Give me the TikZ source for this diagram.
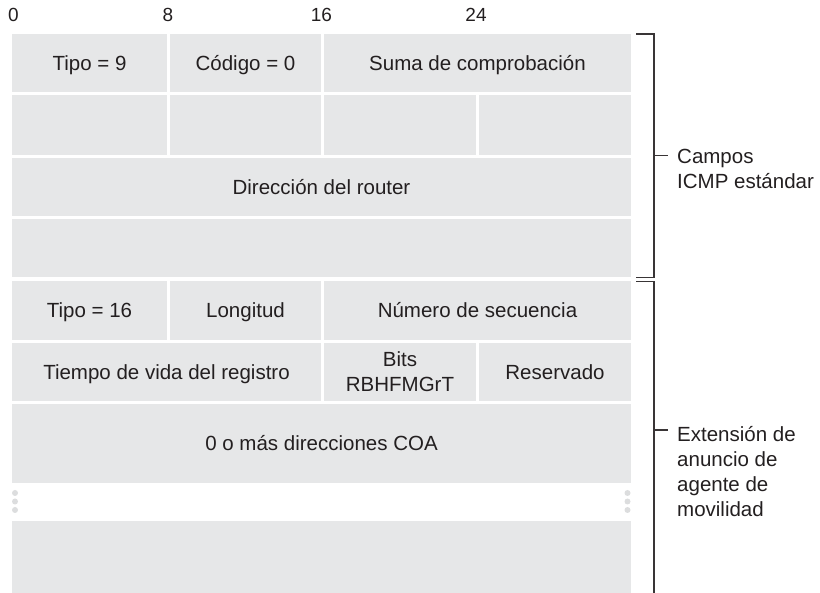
\documentclass[tikz,border=0pt]{standalone}
\usepackage{fontspec}
\setmainfont{Liberation Sans}
\definecolor{cellgray}{RGB}{230,231,232}
\definecolor{ink}{RGB}{35,31,32}
\definecolor{dotgray}{RGB}{220,221,222}
\begin{document}
\begin{tikzpicture}[x=1pt,y=-1pt,
  cell/.style={fill=cellgray, draw=none, inner sep=0pt, text=ink, font=\fontsize{20.5}{25}\selectfont, align=center, text height=14.7pt, text depth=0pt},
  cellml/.style={fill=cellgray, draw=none, inner sep=0pt, text=ink, font=\fontsize{20.5}{25}\selectfont, align=center},
  hdr/.style={text=ink, font=\fontsize{19}{22}\selectfont, inner sep=0pt, anchor=base},
  brk/.style={draw=ink!90, line width=1.1pt},
  lbl/.style={text=ink, font=\fontsize{20.5}{25}\selectfont, align=left, inner sep=0pt, anchor=base west},
  gdot/.style={circle, fill=dotgray, draw=none, inner sep=0pt, minimum size=6pt}]
\useasboundingbox (0,0) rectangle (820,593);
% header
\node[hdr] (h0) at (13.5,21.5) {0};
\node[hdr] (h8) at (168,21.5) {8};
\node[hdr] (h16) at (321.5,21.5) {16};
\node[hdr] (h24) at (476,21.5) {24};
% row 1
\node[cell, minimum width=155pt, minimum height=58pt] (tipo9) at (89.5,63) {Tipo = 9};
\node[cell, minimum width=151pt, minimum height=58pt] (cod) at (245.5,63) {Código = 0};
\node[cell, minimum width=307pt, minimum height=58pt] (suma) at (477.5,63) {Suma de comprobación};
% row 2
\node[cell, minimum width=155pt, minimum height=60pt] (e1) at (89.5,125) {};
\node[cell, minimum width=151pt, minimum height=60pt] (e2) at (245.5,125) {};
\node[cell, minimum width=152pt, minimum height=60pt] (e3) at (400,125) {};
\node[cell, minimum width=152pt, minimum height=60pt] (e4) at (555,125) {};
% rows 3-4
\node[cell, minimum width=619pt, minimum height=58pt] (dir) at (321.5,187) {Dirección del router};
\node[cell, minimum width=619pt, minimum height=58pt] (dir2) at (321.5,248) {};
% row 5
\node[cell, minimum width=155pt, minimum height=59pt] (tipo16) at (89.5,310.5) {Tipo = 16};
\node[cell, minimum width=151pt, minimum height=59pt] (lon) at (245.5,310.5) {Longitud};
\node[cell, minimum width=307pt, minimum height=59pt] (num) at (477.5,310.5) {Número de secuencia};
% row 6
\node[cell, minimum width=309pt, minimum height=58pt] (vida) at (166.5,372) {Tiempo de vida del registro};
\node[cellml, minimum width=152pt, minimum height=58pt] (bits) at (400,372) {Bits\\RBHFMGrT};
\node[cell, minimum width=152pt, minimum height=58pt] (res) at (555,372) {Reservado};
% rows 7-8
\node[cell, minimum width=619pt, minimum height=79pt] (coa) at (321.5,443.5) {0 o más direcciones COA};
\node[cell, minimum width=619pt, minimum height=73pt] (coa2) at (321.5,557.5) {};
% dots
\node[gdot] (dl1) at (15,493) {};
\node[gdot] (dl2) at (15,501.5) {};
\node[gdot] (dl3) at (15,510) {};
\node[gdot] (dr1) at (627.5,493) {};
\node[gdot] (dr2) at (627.5,501.5) {};
\node[gdot] (dr3) at (627.5,510) {};
% bracket 1
\coordinate (b1a) at (636,34);
\coordinate (b1b) at (654,34);
\coordinate (b1c) at (654,277.5);
\coordinate (b1d) at (636,277.5);
\coordinate (b1m) at (654,155.5);
\coordinate (b1e) at (668,155.5);
\draw[brk] (b1a) -- (b1b) -- (b1c) -- (b1d);
\draw[brk] (b1m) -- (b1e);
\node[lbl] (l1) at (677,188.3) {Campos\\ICMP estándar};
% bracket 2
\coordinate (b2a) at (636,281.5);
\coordinate (b2b) at (654,281.5);
\coordinate (b2c) at (654,594);
\coordinate (b2m) at (654,430);
\coordinate (b2e) at (668,430);
\draw[brk] (b2a) -- (b2b) -- (b2c);
\draw[brk] (b2m) -- (b2e);
\node[lbl] (l2) at (677,516.7) {Extensión de\\anuncio de\\agente de\\movilidad};
\end{tikzpicture}
\end{document}
